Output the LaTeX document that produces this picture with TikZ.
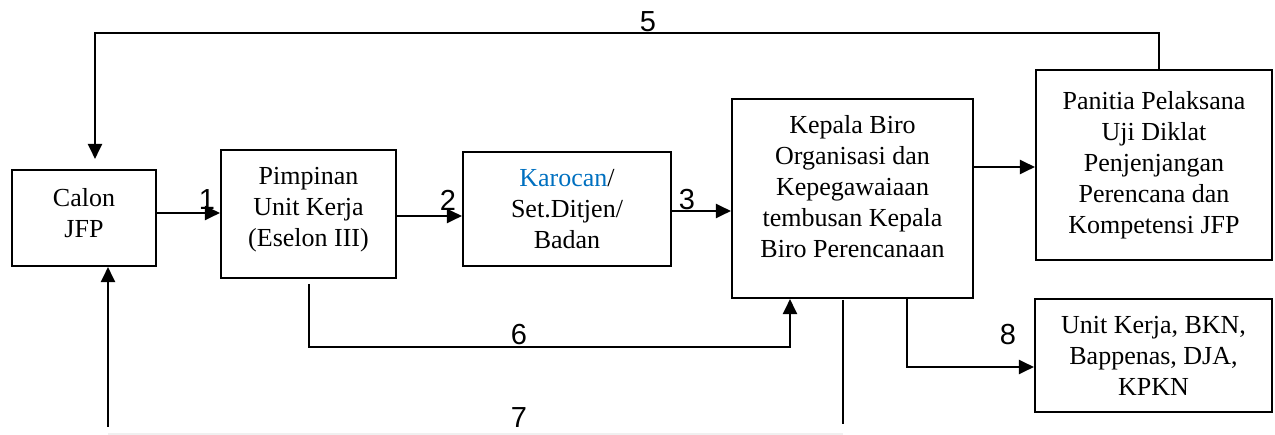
\documentclass[tikz,border=0pt]{standalone}
\usepackage{fontspec}
\setmainfont{Liberation Serif}
\newfontfamily\numfont{Liberation Sans}
\usepackage{xcolor}
\usepackage{tikz}
\usetikzlibrary{calc,arrows.meta}
\definecolor{karoblue}{RGB}{0,112,192}

\begin{document}
\begin{tikzpicture}[x=1pt, y=-1pt, line width=2.1pt, black,
    box/.style={draw, align=center, inner sep=0pt, font=\fontsize{26}{31}\selectfont},
    arr/.style={-{Triangle[length=15pt,width=14pt]}},
    num/.style={inner sep=0pt, font=\numfont\fontsize{29}{29}\selectfont}]

    \useasboundingbox (0,0) rectangle (1275,435);

    %boxes
    \node[box, minimum width=144pt, minimum height=96pt, text depth=10pt] (calon) at (84,218) {Calon\\JFP};
    \node[box, minimum width=175pt, minimum height=128pt, text depth=14pt] (pimpinan) at (308.5,214) {Pimpinan\\Unit Kerja\\(Eselon III)};
    \node[box, minimum width=208pt, minimum height=114pt] (karocan) at (567,209) {{\color{karoblue}Karocan}/\\Set.Ditjen/\\Badan};
    \node[box, minimum width=241pt, minimum height=199pt, text depth=24pt] (kepala) at (852.5,198.5) {Kepala Biro\\Organisasi dan\\Kepegawaiaan\\tembusan Kepala\\Biro Perencanaan};
    \node[box, minimum width=236pt, minimum height=190pt] (panitia) at (1154,165) {Panitia Pelaksana\\Uji Diklat\\Penjenjangan\\Perencana dan\\Kompetensi JFP};
    \node[box, minimum width=237pt, minimum height=113pt] (unit) at (1153.5,355.5) {Unit Kerja, BKN,\\Bappenas, DJA,\\KPKN};

    %coordinates
    \coordinate (r1) at (0,213); % calon -> pimpinan
    \coordinate (r2) at (0,216); % pimpinan -> karocan
    \coordinate (r3) at (0,211); % karocan -> kepala
    \coordinate (r4) at (0,167); % kepala -> panitia
    \coordinate (L5a) at (1159,33);
    \coordinate (L5b) at (95,33);
    \coordinate (L6a) at (309,284);
    \coordinate (L6b) at (309,347);
    \coordinate (L6c) at (790,347);
    \coordinate (L7a) at (843,300);
    \coordinate (L7b) at (843,424);
    \coordinate (L7c) at (843,434);
    \coordinate (L7d) at (108,434);
    \coordinate (L7e) at (108,427);
    \coordinate (L8a) at (907,367);

    %main arrows
    \draw[arr] (calon.east |- r1) -- (pimpinan.west |- r1);
    \draw[arr] (pimpinan.east |- r2) -- (karocan.west |- r2);
    \draw[arr] (karocan.east |- r3) -- (kepala.west |- r3);
    \draw[arr] (kepala.east |- r4) -- (panitia.west |- r4);

    %back to calon (5)
    \draw[arr, shorten >=10pt] (panitia.north -| L5a) -- (L5a) -- (L5b) -- (calon.north -| L5b);

    %pimpinan -> kepala (6)
    \draw[arr] (L6a) -- (L6b) -- (L6c) -- (kepala.south -| L6c);

    %kepala -> calon (7)
    \draw (L7a) -- (L7b);
    \draw[gray!12] (L7c) -- (L7d);
    \draw[arr] (L7e) -- (calon.south -| L7e);

    %kepala -> unit (8)
    \draw[arr] (kepala.south -| L8a) -- (L8a) -- (unit.west |- L8a);

    %labels
    \foreach \i/\x/\y in {1/207/200, 2/448/200, 3/687/200, 5/648/22, 6/519/335, 7/519/418, 8/1008/335}
    	\node[num] (lab\i) at (\x,\y) {\i};

\end{tikzpicture}
\end{document}
